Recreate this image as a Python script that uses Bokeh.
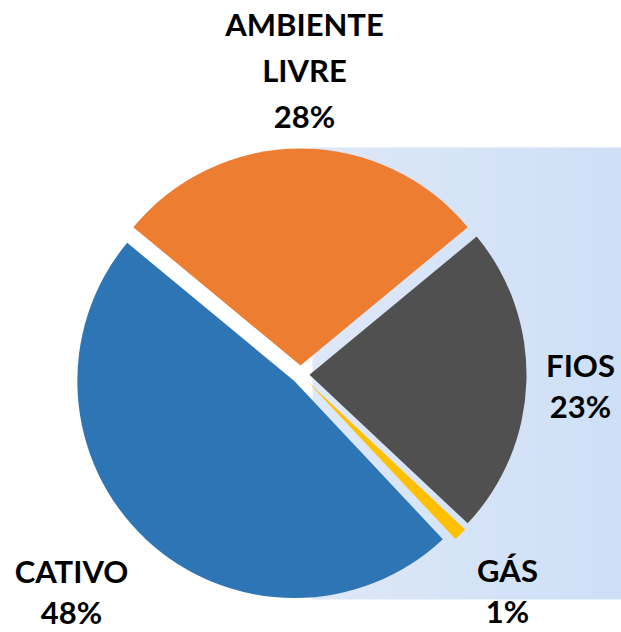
import numpy as np
from bokeh.plotting import figure
from bokeh.models import Range1d, ColumnDataSource
from bokeh.core.properties import value
from bokeh.embed import file_html
from bokeh.resources import INLINE

# ---- data ----
categories = ["AMBIENTE\nLIVRE", "FIOS", "GÁS", "CATIVO"]
percent = [28, 23, 1, 48]
colors = ["#ED7D31", "#505050", "#FFC000", "#2E75B6"]

# ---- layout (reference pixel coordinates; y measured downward) ----
W, H = 621, 632
cx, cy = 300.0, 374.0          # pie centre
R = 217.0                      # pie radius
EXPLODE = 9.0                  # slice explosion distance
FIRST_ANGLE = 309.6            # clockwise from 12 o'clock
BASE_FIX = -13                 # renderer baseline correction

p = figure(width=W, height=H, output_backend="svg", toolbar_location=None,
           x_range=Range1d(0, W), y_range=Range1d(-H, 0),
           x_axis_location=None, y_axis_location=None, min_border=0)
p.outline_line_color = None
p.grid.visible = False
p.background_fill_color = "white"
p.border_fill_color = "white"

# background gradient panel (right side)
bx0, bx1, by0, by1 = 312, 621, 147, 599
n = 40
xs = np.linspace(bx0, bx1, n + 1)
c0 = np.array([0xDD, 0xE8, 0xF8])
c1 = np.array([0xCE, 0xDF, 0xF6])
cols = []
for i in range(n):
    t = i / (n - 1)
    c = (c0 * (1 - t) + c1 * t).round().astype(int)
    cols.append("#%02x%02x%02x" % tuple(c))
p.quad(left=xs[:-1], right=xs[1:] + 0.6, top=[-by0] * n, bottom=[-by1] * n,
       fill_color=cols, line_color=None)

# wedges
vals = np.array(percent, dtype=float)
spans = vals / vals.sum() * 360.0
starts = FIRST_ANGLE + np.concatenate([[0], np.cumsum(spans)[:-1]])
ends = starts + spans
mids = (starts + ends) / 2
rad = np.radians
ox = cx + EXPLODE * np.sin(rad(mids))
oy = cy - EXPLODE * np.cos(rad(mids))
src = ColumnDataSource(dict(
    x=ox, y=-oy,
    start=rad(90 - starts), end=rad(90 - ends),
    color=colors))
p.wedge(x="x", y="y", radius=R, start_angle="start", end_angle="end",
        direction="clock", fill_color="color", line_color=None, source=src)

# labels: anchor x, first baseline y, line spacing
label_pos = [(304, 36, 46), (580, 377, 41), (507, 582, 41), (71, 583, 41)]
lx, ly, lt = [], [], []
for name, pct, (ax, ay, sp) in zip(categories, percent, label_pos):
    lines = name.split("\n") + [f"{pct}%"]
    for k, ln in enumerate(lines):
        lx.append(ax)
        ly.append(-(ay + BASE_FIX + k * sp))
        lt.append(ln)
p.text(x=lx, y=ly, text=lt, text_align="center", text_baseline="alphabetic",
       text_font=value("Lato"), text_font_style="bold", text_font_size="31px",
       text_color="#000000")

open("out.html", "w").write(file_html(p, INLINE))
